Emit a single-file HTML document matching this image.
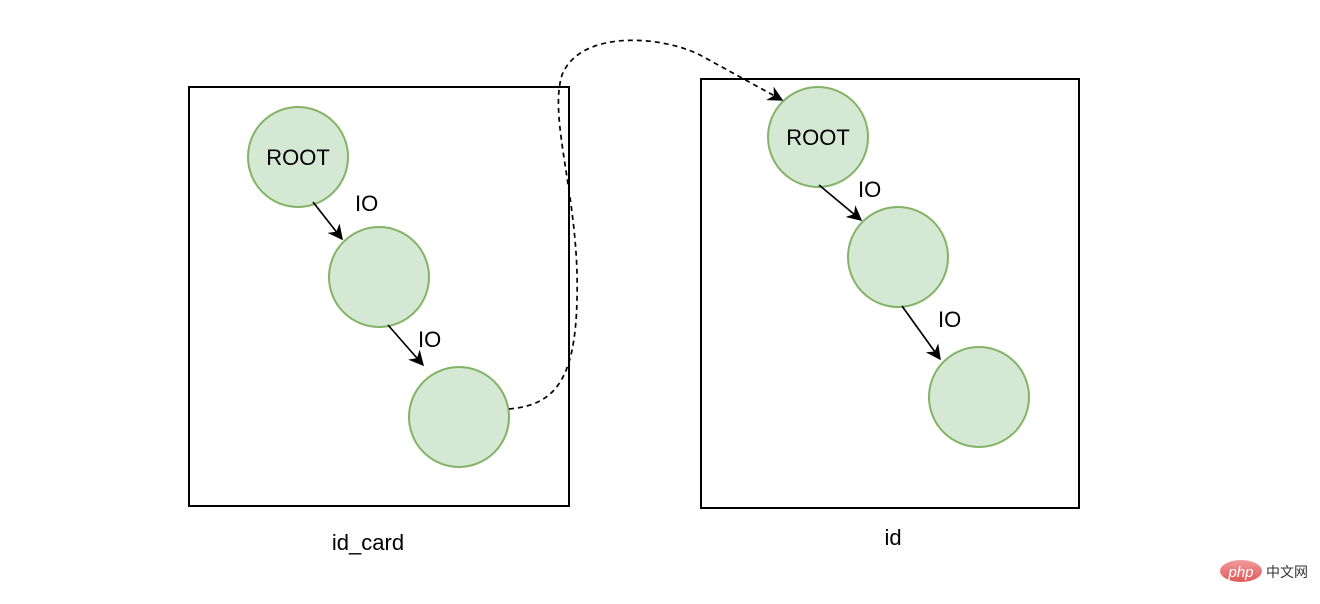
<!DOCTYPE html>
<html><head><meta charset="utf-8"><style>body{margin:0;background:#fff}svg{display:block}</style></head>
<body>
<svg width="1320" height="604" viewBox="0 0 1320 604" xmlns="http://www.w3.org/2000/svg" font-family="Liberation Sans, Arial, sans-serif">
<defs>
<marker id="a" viewBox="0 0 10 10" refX="9" refY="5" markerWidth="9" markerHeight="9" orient="auto"><path d="M0,0 L10,5 L0,10 L3,5 Z" fill="#000"/></marker>
<linearGradient id="pg" x1="0" y1="0" x2="0" y2="1"><stop offset="0" stop-color="#f19a9a"/><stop offset="1" stop-color="#e05a5a"/></linearGradient>
</defs>
<rect x="189" y="87" width="380" height="419" fill="none" stroke="#000" stroke-width="2"/>
<rect x="701" y="79" width="378" height="429" fill="none" stroke="#000" stroke-width="2"/>
<g fill="#d5e8d4" stroke="#82b366" stroke-width="2">
<circle cx="298" cy="157" r="50"/><circle cx="379" cy="277" r="50"/><circle cx="459" cy="417" r="50"/>
<circle cx="818" cy="137" r="50"/><circle cx="898" cy="257" r="50"/><circle cx="979" cy="397" r="50"/>
</g>
<g stroke="#000" stroke-width="1.7" fill="none">
<line x1="313" y1="202" x2="342" y2="239" marker-end="url(#a)"/>
<line x1="388" y1="325" x2="423" y2="365" marker-end="url(#a)"/>
<line x1="819" y1="185" x2="861" y2="220" marker-end="url(#a)"/>
<line x1="902" y1="306" x2="940" y2="359" marker-end="url(#a)"/>
<path d="M509,409 C555,405 575,380 577,300 C580,200 548,120 562,75 C580,30 660,35 700,55 L782,100" stroke-dasharray="5,4" marker-end="url(#a)"/>
</g>
<g font-size="22" fill="#000">
<text x="298" y="165" text-anchor="middle">ROOT</text>
<text x="818" y="145" text-anchor="middle">ROOT</text>
<text x="355" y="211">IO</text>
<text x="418" y="347">IO</text>
<text x="858" y="197">IO</text>
<text x="938" y="327">IO</text>
<text x="368" y="550" text-anchor="middle">id_card</text>
<text x="893" y="545" text-anchor="middle">id</text>
</g>
<ellipse cx="1241" cy="571" rx="21" ry="11" fill="url(#pg)"/>
<text x="1241" y="577" text-anchor="middle" font-size="15" font-style="italic" fill="#fff">php</text>
<text x="1266" y="577" font-size="14" fill="#333" font-family="Noto Sans CJK SC, sans-serif">中文网</text>
</svg>
</body></html>
